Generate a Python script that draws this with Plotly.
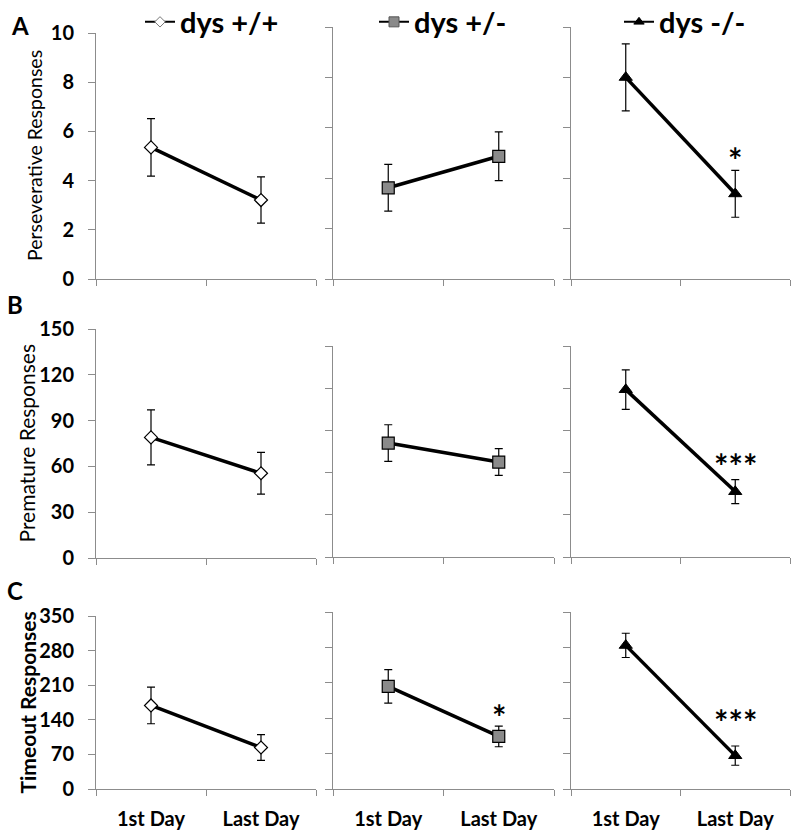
import plotly.graph_objects as go

# ---------------- data ----------------
days = ["1st Day", "Last Day"]
genotypes = ["dys +/+", "dys +/-", "dys -/-"]

persev_wt = [5.35, 3.21]
persev_wt_err = [1.17, 0.94]
persev_het = [3.62, 4.87]
persev_het_err = [0.93, 0.97]
persev_ko = [8.0, 3.38]
persev_ko_err = [1.33, 0.93]

premature_wt = [79, 55.5]
premature_wt_err = [18, 13.7]
premature_het = [81, 67.5]
premature_het_err = [13, 9.5]
premature_ko = [119, 46.5]
premature_ko_err = [14, 8.5]

timeout_wt = [169, 84]
timeout_wt_err = [37, 26]
timeout_het = [203, 104]
timeout_het_err = [33, 20.5]
timeout_ko = [284, 66]
timeout_ko_err = [24, 19]

row_titles = ["Perseverative Responses", "Premature Responses", "Timeout Responses"]
row_letters = ["A", "B", "C"]
y_ranges = [(0, 10, 2), (0, 150, 30), (0, 350, 70)]
significance = [(0, 2, "*"), (1, 2, "***"), (2, 1, "*"), (2, 2, "***")]
sig_y = {(0, 2): 4.76, (1, 2): 65.4, (2, 1): 144, (2, 2): 133}

values = [
    [(persev_wt, persev_wt_err), (persev_het, persev_het_err), (persev_ko, persev_ko_err)],
    [(premature_wt, premature_wt_err), (premature_het, premature_het_err), (premature_ko, premature_ko_err)],
    [(timeout_wt, timeout_wt_err), (timeout_het, timeout_het_err), (timeout_ko, timeout_ko_err)],
]

# ---------------- styling ----------------
W, H = 800, 838
FONT = "Lato"
AXIS_GREY = "#8c8c8c"
markers = [
    dict(symbol="diamond", size=10, color="white", line=dict(color="black", width=1.2)),
    dict(symbol="square", size=12, color="#8a8a8a", line=dict(color="black", width=1.2)),
    dict(symbol="triangle-up", size=11.5, color="black", line=dict(color="black", width=1)),
]
legend_markers = [
    dict(symbol="diamond", size=8, color="white", line=dict(color="#777777", width=1)),
    dict(symbol="square", size=10, color="#8a8a8a", line=dict(color="#555555", width=1)),
    dict(symbol="triangle-up", size=9, color="black", line=dict(color="black", width=1)),
]

x_px = [(96, 316), (333, 554), (571, 790)]
y_px = [
    [(33, 279), (27, 279), (27, 279)],
    [(329, 558), (346, 557), (346, 557)],
    [(616, 789), (612, 789), (612, 789)],
]


def xd(a, b):
    return [a / W, b / W]


def yd(top, bottom):
    return [1 - bottom / H, 1 - top / H]


fig = go.Figure()
layout = dict(
    width=W, height=H,
    margin=dict(l=0, r=0, t=0, b=0, autoexpand=False),
    paper_bgcolor="white", plot_bgcolor="white",
    font=dict(family=FONT, color="black"),
    annotations=[], showlegend=True,
)

legend_x_px = [140, 374, 619]
for c in range(3):
    key = "legend" if c == 0 else f"legend{c + 1}"
    layout[key] = dict(
        x=legend_x_px[c] / W, y=1 - 22 / H, xanchor="left", yanchor="middle",
        font=dict(family=FONT, size=29, color="black", weight="bold"),
        bgcolor="rgba(0,0,0,0)", borderwidth=0, itemwidth=30,
        tracegroupgap=0,
    )

for r in range(3):
    lo, hi, dt = y_ranges[r]
    for c in range(3):
        k = r * 3 + c + 1
        sx = "" if k == 1 else str(k)
        yv, ye = values[r][c]
        fig.add_trace(go.Scatter(
            x=days, y=yv,
            error_y=dict(type="data", array=ye, visible=True, color="black",
                         thickness=1.2, width=4),
            mode="lines+markers",
            line=dict(color="black", width=3.5),
            marker=markers[c],
            name=genotypes[c],
            showlegend=False,
            xaxis="x" + sx, yaxis="y" + sx,
        ))
        if r == 0:
            # legend entry (header above each column)
            fig.add_trace(go.Scatter(
                x=[None], y=[None], mode="lines+markers",
                line=dict(color="black", width=2),
                marker=legend_markers[c],
                name=genotypes[c], showlegend=True,
                legend=("legend" if c == 0 else f"legend{c + 1}"),
                xaxis="x" + sx, yaxis="y" + sx, hoverinfo="skip",
            ))
        layout["xaxis" + sx] = dict(
            domain=xd(*x_px[c]), anchor="y" + sx,
            type="category", categoryorder="array", categoryarray=days,
            range=[-0.5, 1.5], tickson="boundaries",
            ticks="outside", ticklen=6, tickcolor=AXIS_GREY, tickwidth=1,
            showline=True, linecolor=AXIS_GREY, linewidth=1,
            showgrid=False, zeroline=False,
            showticklabels=(r == 2),
            tickfont=dict(family=FONT, size=20, color="black", weight="bold"),
            ticklabelstandoff=12,
            fixedrange=True,
        )
        layout["yaxis" + sx] = dict(
            domain=yd(*y_px[r][c]), anchor="x" + sx,
            range=[lo, hi], dtick=dt, tick0=0,
            ticks="outside", ticklen=7, tickcolor=AXIS_GREY, tickwidth=1,
            showline=True, linecolor=AXIS_GREY, linewidth=1,
            showgrid=False, zeroline=False,
            showticklabels=(c == 0),
            tickfont=dict(family=FONT, size=20, color="black", weight="bold"),
            ticklabelstandoff=10,
            fixedrange=True,
        )

    # row title (y axis label)
    top, bottom = y_px[r][0]
    title_x = [35, 26, 27][r]
    title_size = [19.5, 21, 21][r]
    title_weight = ["normal", "normal", "bold"][r]
    layout["annotations"].append(dict(
        text=row_titles[r], textangle=-90, showarrow=False,
        xref="paper", yref="paper",
        x=title_x / W, y=1 - (top + bottom) / 2 / H,
        xanchor="center", yanchor="middle",
        font=dict(family=FONT, size=title_size, color="black", weight=title_weight),
    ))
    # panel letter
    lx, ly = [(20, 26), (15, 305), (15, 590)][r]
    layout["annotations"].append(dict(
        text="<b>" + row_letters[r] + "</b>", showarrow=False,
        xref="paper", yref="paper", x=lx / W, y=1 - ly / H,
        xanchor="center", yanchor="middle",
        font=dict(family=FONT, size=24, color="black"),
    ))

for (r, c, s) in significance:
    k = r * 3 + c + 1
    sx = "" if k == 1 else str(k)
    layout["annotations"].append(dict(
        text="<b>" + s + "</b>", showarrow=False,
        xref="x" + sx, yref="y" + sx, x=days[1], y=sig_y[(r, c)],
        xanchor="center", yanchor="middle",
        font=dict(family=FONT, size=34, color="black"),
    ))

fig.update_layout(**layout)
fig.write_html("out.html", config={"displayModeBar": False},
               post_script="document.body.style.margin='0px';")
